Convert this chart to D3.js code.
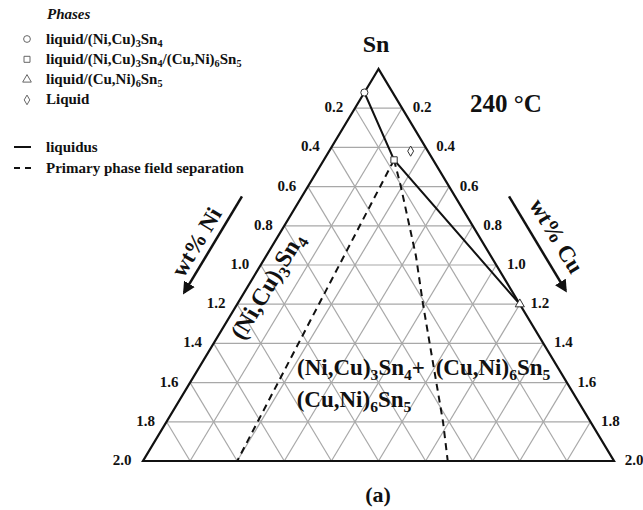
<!DOCTYPE html>
<html>
<head>
<meta charset="utf-8">
<style>
body { margin: 0; background: #fff; }
svg text { font-family: "Liberation Serif", "Times New Roman", serif; font-weight: bold; fill: #111; }
.grid { stroke: #a8a8a8; stroke-width: 1.2; fill: none; }
.edge { stroke: #111; stroke-width: 2.2; fill: none; }
.liq { stroke: #111; stroke-width: 2; fill: none; }
.sep { stroke: #111; stroke-width: 2; fill: none; stroke-dasharray: 7,5; }
.tick { font-size: 15px; }
</style>
</head>
<body>
<svg width="643" height="510"></svg>
<script src="https://d3js.org/d3.v7.min.js"></script>
<script>
// wt% values along each side of the Sn corner
var ticks = [0.2, 0.4, 0.6, 0.8, 1.0, 1.2, 1.4, 1.6, 1.8, 2.0];

// phase points: [Ni, Cu]
var circlePts = [[0.12, 0]];
var squarePts = [[0.166, 0.298]];
var trianglePts = [[0, 1.2]];
var diamondPts = [[0.073, 0.346]];

// liquidus (solid) and primary phase field separation (dashed), [Ni, Cu]
var liquidus = [[0.12, 0], [0.166, 0.298], [0, 1.2]];
var sepLeft = [[0.166, 0.298], [1.6, 0.4]];
var sepRight = [[0.166, 0.298], [0.205, 0.395], [0.318, 0.636], [0.411, 0.789], [0.626, 1.174], [0.706, 1.294]];

var legendPhases = [
  {sym: "circle", parts: [["liquid/(Ni,Cu)"], ["3", 1], ["Sn"], ["4", 1]]},
  {sym: "square", parts: [["liquid/(Ni,Cu)"], ["3", 1], ["Sn"], ["4", 1], ["/(Cu,Ni)"], ["6", 1], ["Sn"], ["5", 1]]},
  {sym: "triangle", parts: [["liquid/(Cu,Ni)"], ["6", 1], ["Sn"], ["5", 1]]},
  {sym: "diamond", parts: [["Liquid"]]}
];

var svg = d3.select("svg");

// sum Ni+Cu runs down the page, Cu-Ni runs across
var sy = d3.scaleLinear().domain([0, 2]).range([69, 461]);
var sx = d3.scaleLinear().domain([-2, 2]).range([143, 614]);
function px(d) { return sx(d[1] - d[0]); }
function py(d) { return sy(d[0] + d[1]); }
var line = d3.line().x(px).y(py);

// text with subscripts
function subText(t, parts, size) {
  parts.forEach(function(p, i) {
    var s = t.append("tspan").text(p[0]);
    var prevSub = i > 0 && parts[i - 1][1];
    if (p[1]) s.attr("font-size", size * 0.68).attr("dy", prevSub ? 0 : size * 0.22);
    else if (prevSub) s.attr("dy", -size * 0.22);
  });
}

var g = svg.append("g");

// grid
var grid = [];
ticks.slice(0, 9).forEach(function(v) {
  grid.push([[v, 0], [0, v]]);          // Ni+Cu = v
  grid.push([[v, 0], [v, 2 - v]]);      // Ni = v
  grid.push([[0, v], [2 - v, v]]);      // Cu = v
});
g.selectAll(".grid").data(grid).enter().append("path")
  .attr("class", "grid").attr("d", line);

g.append("path").attr("class", "edge")
  .attr("d", line([[0, 0], [2, 0], [0, 2], [0, 0]]) + "Z");

// tick labels
g.selectAll(".tl").data(ticks).enter().append("text")
  .attr("class", "tick").attr("text-anchor", "middle")
  .attr("x", function(d) { return px([d, 0]) - 21; })
  .attr("y", function(d) { return py([d, 0]) + 4; })
  .text(function(d) { return d.toFixed(1); });
g.selectAll(".tr").data(ticks).enter().append("text")
  .attr("class", "tick").attr("text-anchor", "middle")
  .attr("x", function(d) { return px([0, d]) + 20; })
  .attr("y", function(d) { return py([0, d]) + 4; })
  .text(function(d) { return d.toFixed(1); });

// phase lines
g.append("path").attr("class", "liq").attr("d", line(liquidus));
g.append("path").attr("class", "sep").attr("d", line(sepLeft));
g.append("path").attr("class", "sep").attr("d", line(sepRight));

// markers
var symType = {circle: d3.symbolCircle, square: d3.symbolSquare, triangle: d3.symbolTriangle, diamond: d3.symbolDiamond};
var symSize = {circle: 40, square: 40, triangle: 36, diamond: 30};
function marks(pts, kind) {
  g.selectAll(".m-" + kind).data(pts).enter().append("path")
    .attr("class", "m-" + kind)
    .attr("transform", function(d) { return "translate(" + px(d) + "," + py(d) + ")"; })
    .attr("d", d3.symbol().type(symType[kind]).size(symSize[kind]))
    .attr("fill", "#fff").attr("stroke", "#333").attr("stroke-width", 1);
}
marks(circlePts, "circle");
marks(squarePts, "square");
marks(trianglePts, "triangle");
marks(diamondPts, "diamond");

// titles
svg.append("text").attr("x", 376).attr("y", 52).attr("text-anchor", "middle")
  .attr("font-size", 24).text("Sn");
svg.append("text").attr("x", 506).attr("y", 112).attr("text-anchor", "middle")
  .attr("font-size", 25).text("240 °C");
svg.append("text").attr("x", 378).attr("y", 502).attr("text-anchor", "middle")
  .attr("font-size", 22).text("(a)");

// axis arrows, parallel to the side edges
svg.append("defs").append("marker").attr("id", "ah")
  .attr("viewBox", "0 0 10 10").attr("refX", 8).attr("refY", 5)
  .attr("markerWidth", 5).attr("markerHeight", 5).attr("orient", "auto")
  .append("path").attr("d", "M0,0L10,5L0,10Z").attr("fill", "#111");
var ang = Math.atan2(sy(2) - sy(0), sx(0) - sx(-2)) * 180 / Math.PI;
svg.append("line")
  .attr("x1", px([0.65, 0]) - 60).attr("y1", py([0.65, 0]))
  .attr("x2", px([1.14, 0]) - 60).attr("y2", py([1.14, 0]))
  .attr("stroke", "#111").attr("stroke-width", 2.5).attr("marker-end", "url(#ah)");
svg.append("line")
  .attr("x1", px([0, 0.65]) + 54).attr("y1", py([0, 0.65]))
  .attr("x2", px([0, 1.13]) + 54).attr("y2", py([0, 1.13]))
  .attr("stroke", "#111").attr("stroke-width", 2.5).attr("marker-end", "url(#ah)");
svg.append("text").attr("text-anchor", "middle").attr("font-size", 23)
  .attr("transform", "translate(203,246) rotate(" + (-ang) + ")").text("wt% Ni");
svg.append("text").attr("text-anchor", "middle").attr("font-size", 23)
  .attr("transform", "translate(550,240) rotate(" + ang + ")").text("wt% Cu");

// field labels
function fieldLabel(x, y, rot, parts, size) {
  var t = svg.append("text").attr("font-size", size).attr("text-anchor", "middle")
    .attr("transform", "translate(" + x + "," + y + ") rotate(" + rot + ")");
  subText(t, parts, size);
}
fieldLabel(274, 290, -ang, [["(Ni,Cu)"], ["3", 1], ["Sn"], ["4", 1]], 24);
fieldLabel(361, 375, 0, [["(Ni,Cu)"], ["3", 1], ["Sn"], ["4", 1], ["+"]], 23);
fieldLabel(354, 407, 0, [["(Cu,Ni)"], ["6", 1], ["Sn"], ["5", 1]], 23);
fieldLabel(493, 375, 0, [["(Cu,Ni)"], ["6", 1], ["Sn"], ["5", 1]], 23);

// legend
var lg = svg.append("g");
lg.append("text").attr("x", 47).attr("y", 19).attr("font-size", 15)
  .attr("font-style", "italic").text("Phases");
var rows = lg.selectAll(".lr").data(legendPhases).enter().append("g")
  .attr("transform", function(d, i) { return "translate(0," + (39 + i * 20.3) + ")"; });
rows.append("path")
  .attr("transform", "translate(27,0)")
  .attr("d", function(d) { return d3.symbol().type(symType[d.sym]).size(symSize[d.sym] * 0.9)(); })
  .attr("fill", "#fff").attr("stroke", "#666").attr("stroke-width", 1);
rows.each(function(d) {
  var t = d3.select(this).append("text").attr("x", 46).attr("y", 4.5).attr("font-size", 15);
  subText(t, d.parts, 15);
});
lg.append("line").attr("x1", 14).attr("x2", 31).attr("y1", 147).attr("y2", 147)
  .attr("stroke", "#111").attr("stroke-width", 2);
lg.append("line").attr("x1", 14).attr("x2", 32).attr("y1", 168).attr("y2", 168)
  .attr("stroke", "#111").attr("stroke-width", 2).attr("stroke-dasharray", "6,5");
lg.append("text").attr("x", 46).attr("y", 152).attr("font-size", 15).text("liquidus");
lg.append("text").attr("x", 46).attr("y", 173).attr("font-size", 15).text("Primary phase field separation");
</script>
</body>
</html>
